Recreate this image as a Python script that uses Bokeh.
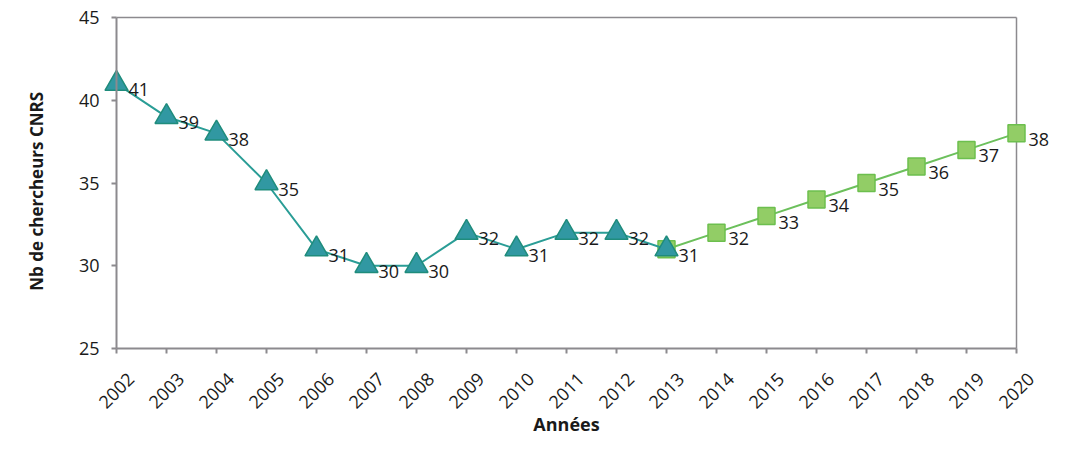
import math
from bokeh.plotting import figure
from bokeh.models import ColumnDataSource, FixedTicker, Range1d, LabelSet, Label, LinearAxis
from bokeh.core.properties import value
from bokeh.embed import file_html
from bokeh.resources import INLINE

years_obs = [2002, 2003, 2004, 2005, 2006, 2007, 2008, 2009, 2010, 2011, 2012, 2013]
vals_obs = [41, 39, 38, 35, 31, 30, 30, 32, 31, 32, 32, 31]
years_proj = [2013, 2014, 2015, 2016, 2017, 2018, 2019, 2020]
vals_proj = [31, 32, 33, 34, 35, 36, 37, 38]
y_ticks = [25, 30, 35, 40, 45]
x_ticks = list(range(2002, 2021))
x_tick_labels = [str(y) for y in x_ticks]

FONT = "Open Sans"
TXT = "#1a1a1a"
GRAY = "#8c8a8e"
W, H = 1053, 438

# plot box in canvas pixels
L_PX, R_PX, T_PX, B_PX = 116, 1016, 17, 348
x0, x1 = x_ticks[0], x_ticks[-1]
y0, y1 = y_ticks[0], y_ticks[-1]
sx = (R_PX - L_PX) / (x1 - x0)
sy = (B_PX - T_PX) / (y1 - y0)

p = figure(width=W, height=H, output_backend="svg", toolbar_location=None,
           x_axis_type=None, y_axis_type=None,
           x_range=Range1d(x0 - L_PX / sx, x1 + (W - R_PX) / sx),
           y_range=Range1d(y0 - (H - B_PX) / sy, y1 + T_PX / sy),
           min_border=0)
p.grid.visible = False
p.outline_line_color = None
p.background_fill_color = "white"
p.border_fill_color = "white"

# box border (top and right)
p.segment(x0=[x0, x1], y0=[y1, y0], x1=[x1, x1], y1=[y1, y1],
          line_color=GRAY, line_width=1.5)

xaxis = LinearAxis(fixed_location=y0, bounds=(x0, x1), ticker=FixedTicker(ticks=x_ticks))
yaxis = LinearAxis(fixed_location=x0, bounds=(y0, y1), ticker=FixedTicker(ticks=y_ticks))
for ax in (xaxis, yaxis):
    ax.axis_line_color = GRAY
    ax.axis_line_width = 2
    ax.major_tick_line_color = GRAY
    ax.major_tick_line_width = 2
    ax.major_tick_out = 5
    ax.major_tick_in = 0
    ax.minor_tick_line_color = None
    ax.major_label_text_font = FONT
    ax.major_label_text_font_size = "18px"
    ax.major_label_text_color = TXT
xaxis.major_label_text_alpha = 0
yaxis.major_label_standoff = 12
p.add_layout(xaxis, "below")
p.add_layout(yaxis, "left")

src_obs = ColumnDataSource(dict(x=years_obs, y=vals_obs, t=[str(v) for v in vals_obs]))
src_proj = ColumnDataSource(dict(x=years_proj, y=vals_proj, t=[str(v) for v in vals_proj]))
src_proj_lab = ColumnDataSource(dict(x=years_proj[1:], y=vals_proj[1:], t=[str(v) for v in vals_proj[1:]]))

p.line("x", "y", source=src_proj, line_color="#6cc05c", line_width=2)
p.scatter("x", "y", source=src_proj, marker="square", size=17,
          fill_color="#92cd66", line_color="#6cbf4e", line_width=1.5)
p.line("x", "y", source=src_obs, line_color="#2a9d96", line_width=2)
p.scatter("x", "y", source=src_obs, marker="triangle", size=23,
          fill_color="#3198a2", line_color="#1f8c7c", line_width=1.5)

for s in (src_obs, src_proj_lab):
    p.add_layout(LabelSet(x="x", y="y", text="t", source=s, x_offset=12, y_offset=-6,
                          text_font=value(FONT), text_font_size="18px", text_color=TXT,
                          text_baseline="middle", text_align="left"))

# rotated year labels centred under each tick
src_ticks = ColumnDataSource(dict(x=x_ticks, t=x_tick_labels, y=[y0] * len(x_ticks)))
p.add_layout(LabelSet(x="x", y="y", y_offset=-42, text="t", source=src_ticks,
                      angle=math.pi / 4, text_font=value(FONT), text_font_size="18px",
                      text_color=TXT, text_align="center", text_baseline="middle"))

p.add_layout(Label(x=(x0 + x1) / 2, y=y0, y_offset=-75, text="Années",
                   text_font=FONT, text_font_size="18px", text_font_style="bold",
                   text_color=TXT, text_align="center", text_baseline="middle"))
p.add_layout(Label(x=x0, x_offset=-80, y=(y0 + y1) / 2 - 0.5, text="Nb de chercheurs CNRS",
                   angle=math.pi / 2, text_font=FONT, text_font_size="17px",
                   text_font_style="bold", text_color=TXT,
                   text_align="center", text_baseline="middle"))

open("out.html", "w").write(file_html(p, INLINE))
